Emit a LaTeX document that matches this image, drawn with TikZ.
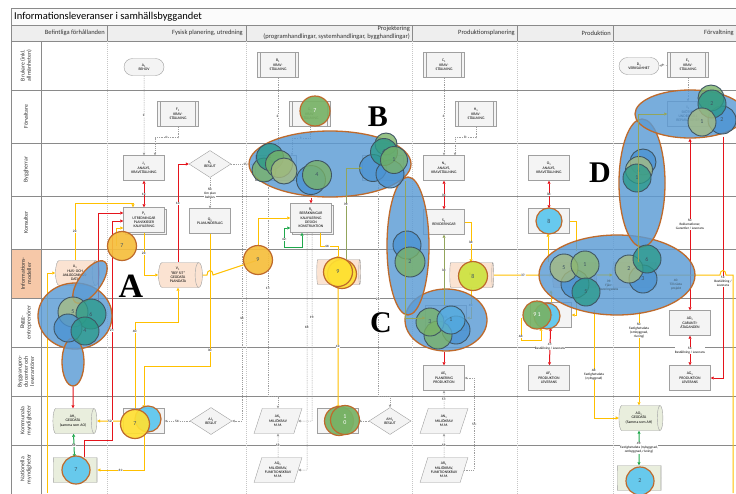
\documentclass[tikz,border=0pt]{standalone}
\usepackage{fontspec}
\setmainfont{Carlito}
\newfontfamily\bigserif{Liberation Serif}
\usetikzlibrary{shapes.geometric,shapes.misc,arrows.meta,shadows,calc}
\pgfdeclarelayer{ell}
\pgfdeclarelayer{top}
\pgfsetlayers{main,ell,top}
\definecolor{yel}{HTML}{FFC000}
\definecolor{redl}{HTML}{E5141C}
\definecolor{grnl}{HTML}{1FA84C}
\definecolor{olv}{HTML}{93A55C}
\definecolor{ellf}{HTML}{5B9BD5}
\definecolor{ello}{HTML}{BE6A2C}
\definecolor{peach}{HTML}{F6C8A8}
\definecolor{peachl}{HTML}{FBE3D2}
\definecolor{geo}{HTML}{E9EEDD}
\definecolor{boxf}{HTML}{F4F4F4}
\definecolor{boxd}{HTML}{A0A0A0}
\definecolor{lanel}{HTML}{8A8A8A}
\definecolor{headf}{HTML}{EEEEEE}
\definecolor{cgreen}{HTML}{78B266}
\definecolor{cteal}{HTML}{2B9A8A}
\definecolor{colive}{HTML}{A7BC80}
\definecolor{cblue}{HTML}{4B93D2}
\definecolor{clight}{HTML}{5CC6EE}
\definecolor{cring}{HTML}{3F5563}
\definecolor{corange}{HTML}{F6BE3C}
\definecolor{cyellow}{HTML}{FFE033}
\definecolor{cyg}{HTML}{CDE23F}
\begin{document}
\begin{tikzpicture}[x=1pt,y=-1pt,
  font=\fontsize{3.8}{4.3}\selectfont,
  >={Triangle[length=3pt,width=3pt]},
  box/.style={draw=boxd, fill=boxf, minimum width=41pt, minimum height=25pt, inner sep=0.5pt, align=center, line width=0.4pt},
  stackbox/.style={box, copy shadow={shadow xshift=2pt, shadow yshift=-2pt, draw=boxd, fill=boxf}},
  pproc/.style={box, path picture={
    \draw[boxd] ([xshift=3pt]path picture bounding box.north west) -- ([xshift=3pt]path picture bounding box.south west);
    \draw[boxd] ([xshift=-3pt]path picture bounding box.north east) -- ([xshift=-3pt]path picture bounding box.south east);}},
  term/.style={rounded rectangle, draw=boxd, fill=boxf, minimum width=41pt, minimum height=17pt, inner sep=0.5pt, align=center},
  dec/.style={diamond, aspect=1.6, draw=boxd, fill=boxf, minimum width=42pt, minimum height=27pt, inner sep=0pt, align=center},
  cyl/.style={cylinder, shape border rotate=0, aspect=0.45, draw=boxd, minimum width=25pt, minimum height=44pt, inner sep=0.5pt, align=center, cylinder uses custom fill, cylinder body fill=peachl, cylinder end fill=peachl},
  geocyl/.style={cyl, cylinder body fill=geo, cylinder end fill=geo},
  para/.style={trapezium, trapezium left angle=68, trapezium right angle=112, trapezium stretches=true, draw=boxd, fill=boxf, minimum width=48pt, minimum height=25pt, inner sep=0.5pt, align=center},
  bigell/.style={ellipse, draw=ello, line width=1.3pt, fill=ellf, fill opacity=0.82, draw opacity=1, inner sep=0pt},
  cn/.style={circle, draw=cring, line width=0.9pt, inner sep=0pt, minimum size=#1, fill opacity=0.78, text opacity=1, font=\fontsize{6}{6}\selectfont, text=cring, align=center},
  cn/.default=28pt,
  yc/.style={cn=#1, draw=ello, line width=1.2pt, fill opacity=0.92},
  yc/.default=28pt,
  yl/.style={draw=yel, line width=1pt, ->},
  yln/.style={draw=yel, line width=1pt},
  rl/.style={draw=redl, line width=1pt, ->},
  gl/.style={draw=grnl, line width=1pt, <->},
  ol/.style={draw=olv, line width=0.8pt, ->},
  dl/.style={draw=gray!75, line width=0.5pt, dash pattern=on 1.2pt off 1pt, -{Triangle[length=2.5pt,width=2.5pt]}},
  lab/.style={fill=white, inner sep=0.3pt, font=\fontsize{3.4}{3.9}\selectfont, align=center},
  lane/.style={rotate=90, align=center, font=\fontsize{5.8}{6.3}\selectfont, text=black!80},
  hdr/.style={font=\fontsize{6.5}{6.5}\selectfont, anchor=east, text=black!80, inner sep=0pt},
  colsep/.style={draw=gray!45, dash pattern=on 1pt off 1pt, line width=0.4pt},
  ln/.style={draw=lanel, line width=0.8pt},
  bigletter/.style={font=\bigserif\bfseries\fontsize{30}{30}\selectfont, inner sep=0pt}
]
\useasboundingbox (0,0) rectangle (736,493);
\clip (0,0) rectangle (736,493);
\fill[white] (0,0) rectangle (736,493);
% ---------- frame and lanes ----------
\fill[headf] (11,8) rectangle (745,41);
\fill[white!97!gray] (11,8) rectangle (745,25);
\fill[peach] (11,249) rectangle (41,298);
\draw[ln] (11,8) rectangle (745,500);
\draw[ln] (11,25) -- (745,25);
\draw[ln] (11,41) -- (745,41);
\foreach \yy in {90,143,196,249,298,347,396,445} \draw[ln] (11,\yy) -- (745,\yy);
\draw[ln] (41,41) -- (41,500);
\foreach \xx in {107,246,412,517,613} {\draw[ln] (\xx,25) -- (\xx,41); \draw[colsep] (\xx,41) -- (\xx,500);}
\node[anchor=west, font=\fontsize{10.5}{10.5}\selectfont, inner sep=0pt] (title) at (14,17) {Informationsleveranser i samhällsbyggandet};
\node[hdr] (h1) at (105,33) {Befintliga förhållanden};
\node[hdr] (h2) at (243,33) {Fysisk planering, utredning};
\node[hdr] (h3a) at (410,29) {Projektering};
\node[hdr] (h3b) at (410,37) {(programhandlingar, systemhandlingar, bygghandlingar)};
\node[hdr] (h4) at (515,33) {Produktionsplanering};
\node[hdr] (h5) at (611,33) {Produktion};
\node[hdr] (h6) at (734,33) {Förvaltning};
\node[lane] (lane1) at (26,65.5) {Brukare (inkl.\\allmänheten)};
\node[lane] (lane2) at (26,116.5) {Förvaltare};
\node[lane] (lane3) at (26,169.5) {Byggherrar};
\node[lane] (lane4) at (26,222.5) {Konsulter};
\node[lane] (lane5) at (26,273.5) {Informations-\\modeller};
\node[lane] (lane6) at (26,322.5) {Bygg-\\entreprenörer};
\node[lane] (lane7) at (26,371.5) {Byggvarupro-\\ducenter och\\leverantörer};
\node[lane] (lane8) at (26,420.5) {Kommunala\\myndigheter};
\node[lane] (lane9) at (26,469) {Nationella\\myndigheter};
% ---------- process nodes ----------
\node[term] (A1) at (144,67) {A\textsubscript{1}\\BEHOV};
\node[pproc] (B1) at (278,65) {B\textsubscript{1}\\KRAV-\\STÄLLNING};
\node[pproc] (C1) at (444,65) {C\textsubscript{1}\\KRAV-\\STÄLLNING};
\node[term] (D1) at (639,66) {D\textsubscript{1}\\VERKSAMHET};
\node[pproc] (E1) at (688,65) {E\textsubscript{1}\\KRAV-\\STÄLLNING};
\node[pproc] (F1) at (178,114) {F\textsubscript{1}\\KRAV-\\STÄLLNING};
\node[pproc] (G1) at (310,114) {G\textsubscript{1}\\KRAV-\\STÄLLNING};
\node[pproc] (H1) at (476,114) {H\textsubscript{1}\\KRAV-\\STÄLLNING};
\node[box] (I1) at (688,114) {I\textsubscript{1}\\SKÖTSEL\\UNDERHÅLL\\REPARATIONER};
\node[box] (J1) at (144,168) {J\textsubscript{1}\\ANALYS,\\KRAVSTÄLLNING};
\node[dec] (K1) at (210,164) {K\textsubscript{1}\\BESLUT};
\node[box] (L1) at (276,168) {L\textsubscript{1}};
\node[box] (M1) at (383,168) {M\textsubscript{1}};
\node[box] (N1) at (444,168) {N\textsubscript{1}\\ANALYS,\\KRAVSTÄLLNING};
\node[box] (O1) at (549,168) {O\textsubscript{1}\\ANALYS,\\KRAVSTÄLLNING};
\node[stackbox] (P1) at (144,220) {P\textsubscript{1}\\UTREDNINGAR\\PLANSKISSER\\KALKYLERING};
\node[box] (Q1) at (210,221) {Q\textsubscript{1}\\PLANUNDERLAG};
\node[stackbox, minimum height=29pt] (R1) at (311,218) {R\textsubscript{1}\\BERÄKNINGAR\\KALKYLERING\\DESIGN\\KONSTRUKTION};
\node[box] (S1) at (444,222) {S\textsubscript{1}\\REVIDERINGAR};
\node[box] (T1) at (549,221) {T\textsubscript{1}};
\node[cyl] (U1) at (75,273) {U\textsubscript{1}\\HUS- OCH\\ANLÄGGNINGS-\\DATA};
\node[cyl] (V1) at (178,275) {V\textsubscript{1}\\"BEF SIT"\\GEODATA\\PLANDATA};
\node[cyl] (W1) at (338,272) {W\textsubscript{1}};
\node[cyl] (X1) at (471,275) {X\textsubscript{1}};
\node[cyl] (Y1) at (574,275) {Y\textsubscript{1}};
\node[cyl] (Z1) at (634,275) {Z\textsubscript{1}};
\node[box] (AB1) at (446,318) {AB\textsubscript{1}};
\node[box] (AC1) at (551,315) {AC\textsubscript{1}};
\node[box] (AD1) at (690,323) {AD\textsubscript{1}\\GARANTI-\\ÅTAGANDEN};
\node[box] (AE1) at (444,378) {AE\textsubscript{1}\\PLANERING\\PRODUKTION};
\node[box] (AF1) at (549,378) {AF\textsubscript{1}\\PRODUKTION\\LEVERANS};
\node[box] (AG1) at (690,378) {AG\textsubscript{1}\\PRODUKTION\\LEVERANS};
\node[geocyl] (AH1) at (73,421) {AH\textsubscript{1}\\GEODATA\\(samma som AO)};
\node[box] (AI1) at (144,421) {AI\textsubscript{1}};
\node[dec] (AJ1) at (211,421) {AJ\textsubscript{1}\\BESLUT};
\node[para] (AK1) at (278,421) {AK\textsubscript{1}\\MILJÖKRAV\\M.M.};
\node[box] (AL1) at (338,421) {AL\textsubscript{1}};
\node[dec] (AM1) at (390,421) {AM\textsubscript{1}\\BESLUT};
\node[para] (AN1) at (444,421) {AN\textsubscript{1}\\MILJÖKRAV\\M.M.};
\node[geocyl] (AO1) at (639,418) {AO\textsubscript{1}\\GEODATA\\(Samma som AH)};
\node[geocyl] (AP1) at (75,470) {};
\node[para] (AQ1) at (278,470) {AQ\textsubscript{1}\\MILJÖKRAV,\\FUNKTIONSKRAV\\M.M.};
\node[para] (AR1) at (444,470) {AR\textsubscript{1}\\MILJÖKRAV,\\FUNKTIONSKRAV\\M.M.};
\node[geocyl] (AS1) at (639,478) {};
% ---------- ellipses and marker circles (upper layer) ----------
\begin{pgfonlayer}{ell}
\node[bigell, minimum width=74pt, minimum height=66pt] (ellA) at (75,316) {};
\node[bigell, minimum width=22pt, minimum height=50pt, rotate=-36] (ellA2) at (90,282) {};
\node[bigell, minimum width=22pt, minimum height=48pt] (ellA3) at (73,362) {};
\node[bigell, minimum width=162pt, minimum height=66pt] (ellB) at (330,164) {};
\node[bigell, minimum width=82pt, minimum height=62pt] (ellC) at (446,320) {};
\node[bigell, minimum width=42pt, minimum height=138pt] (ellBC) at (408,246) {};
\node[bigell, minimum width=156pt, minimum height=80pt] (ellD) at (617,275) {};
\node[bigell, minimum width=46pt, minimum height=128pt] (ellD2) at (642,183) {};
\node[bigell, minimum width=110pt, minimum height=48pt] (ellE) at (690,114) {};
% circles in A
\node[cn=30pt, fill=colive] (a5) at (73,312) {5};
\node[cn=30pt, fill=cteal] (a6) at (91,314) {6};
\node[cn=28pt, fill=cblue] (a4b) at (68,328) {};
\node[cn=28pt, fill=cteal] (a4) at (85,331) {4};
% circles in B
\node[cn=24pt, fill=cgreen] (b2d) at (264,170) {};
\node[cn=27pt, fill=cteal] (b2) at (270,157) {2};
\node[cn=27pt, fill=cgreen] (b2b) at (279,164) {};
\node[cn=26pt, fill=colive] (b2c) at (284,171) {};
\node[cn=29pt, fill=cblue] (b4b) at (311,180) {};
\node[cn=29pt, fill=cgreen] (b4) at (317,175) {4};
\node[cn=22pt, fill=cgreen] (b3t) at (386,144) {};
\node[cn=27pt, fill=cblue] (b3a) at (373,168) {};
\node[cn=28pt, fill=cblue] (b3b) at (390,174) {};
\node[cn=27pt, fill=cteal] (b4r) at (384,152) {4};
\node[cn=27pt, fill=cgreen] (b1r) at (394,160) {1};
% circles in BC and C
\node[cn=28pt, fill=cblue] (bc1) at (407,245) {};
\node[cn=30pt, fill=cgreen] (bc2) at (410,262) {2};
\node[cn=28pt, fill=cblue] (c1b) at (456,330) {};
\node[cn=28pt, fill=cgreen] (c3b) at (438,335) {};
\node[cn=28pt, fill=cgreen] (c3) at (430,322) {3};
\node[cn=28pt, fill=clight!50!cblue] (c1) at (451,320) {1};
% circles in D
\node[cn=28pt, fill=cblue] (d5b) at (575,284) {};
\node[cn=28pt, fill=colive] (d5) at (564,268) {5};
\node[cn=28pt, fill=cgreen!60!colive] (d1) at (585,265) {1};
\node[cn=28pt, fill=cteal] (d5c) at (586,292) {5};
\node[cn=28pt, fill=cblue] (d3) at (643,279) {3};
\node[cn=28pt, fill=colive] (d2) at (629,269) {2};
\node[cn=28pt, fill=cteal] (d6) at (647,259) {6};
\node[lab, fill=none, text=cring] (l39) at (609,286) {39:\\Fjärr-\\leveringsdata};
\node[lab, fill=none, text=cring] (l40) at (676,285) {40:\\Till nästa\\projekt};
\node[cn=26pt, fill=cblue] (d6a) at (643,162) {};
\node[cn=27pt, fill=colive] (d6b) at (639,170) {6};
\node[cn=28pt, fill=cteal] (d1a) at (637,178) {1};
% circles in E
\node[cn=28pt, fill=cblue] (e2b) at (722,120) {2};
\node[cn=26pt, fill=cgreen] (e2t) at (711,98) {};
\node[cn=28pt, fill=cteal] (e2) at (712,104) {2};
\node[cn=28pt, fill=colive] (e1) at (702,122) {1};
% single markers
\node[yc=30pt, fill=cgreen, text=white] (g7) at (315,111) {7};
\node[yc=29pt, fill=corange] (o7) at (122,246) {7};
\node[yc=29pt, fill=corange] (o9) at (258,260) {9};
\node[yc=29pt, fill=cyellow] (y9b) at (342,274) {};
\node[yc=29pt, fill=cyellow] (y9) at (338,272) {9};
\node[yc=29pt, fill=cyg] (yg8) at (473,276) {8};
\node[yc=26pt, fill=clight] (lb8) at (549,221) {8};
\node[yc=26pt, fill=clight] (k91b) at (547,316) {};
\node[yc=28pt, fill=cgreen, text=white] (k91) at (537,315) {9\,1};
\node[yc=26pt, fill=clight] (m7b) at (148,419) {};
\node[yc=29pt, fill=cyellow] (m7) at (135,424) {7};
\node[yc=29pt, fill=cgreen] (m10b) at (339,421) {};
\node[yc=29pt, fill=cgreen, text=white] (m10) at (345,420) {1\\0};
\node[yc=28pt, fill=clight] (n7) at (76,470) {7};
\node[yc=28pt, fill=clight] (n2) at (640,481) {2};
% big letters
\node[bigletter, font=\bigserif\bfseries\fontsize{34}{34}\selectfont] (LA) at (131,286) {A};
\node[bigletter] (LB) at (378,117) {B};
\node[bigletter] (LC) at (381,323) {C};
\node[bigletter] (LD) at (600,173) {D};
\end{pgfonlayer}
% ---------- dashed connectors ----------
\draw[dl] (A1) -- node[lab]{1:} (J1);
\draw[dl] (F1.south) -- ++(0,11) -| node[lab,pos=0.25]{4:} ($(J1.north)+(11,0)$);
\draw[dl] (B1.south) -- node[lab]{2:} (B1.south |- L1.north);
\draw[dl] (G1.south) -- ++(0,12) -| node[lab,pos=0.25]{7:} ($(L1.north)+(16,0)$);
\draw[dl] (C1) -- node[lab]{3:} (N1);
\draw[dl] (H1.south) -- ++(0,11) -| node[lab,pos=0.25]{8:} ($(N1.north)+(11,0)$);
\draw[dl] (E1) -- node[lab]{9:} (D1);
\draw[dl] (E1) -- (I1);
\draw[dl] (K1) -- node[lab]{5b:\\Om plan\\behövs} (Q1);
\draw[dl] (K1.east) -- node[lab,pos=0.6]{15:} (K1.east -| L1.west);
\draw[dl] ($(K1.east)+(11,0)$) |- node[lab,pos=0.3]{16:} (AJ1.east);
\draw[dl] ($(L1.south)+(-8,0)$) -- node[lab,pos=0.5]{17:} (268,396) -| (AK1.north);
\draw[dl] ($(R1.south)+(-4,0)$) -- node[lab,pos=0.4]{18:} (307,470) -- (AQ1.east);
\draw[dl] ($(R1.south)+(1,0)$) -- node[lab,pos=0.45]{19:} (312,421) -- (AK1.east);
\draw[dl] ($(M1.south)+(-5,0)$) -- node[lab,pos=0.55]{21:} (378,396) -| (AM1.north);
\draw[dl] (AM1) -- (AL1);
\draw[dl] (AJ1) -- node[lab]{54:} (AI1);
\draw[dl] (AQ1) -- node[lab]{53:} (AK1);
\draw[dl] (AR1) -- node[lab]{56:} (AN1);
\draw[dl] (AN1) -- node[lab]{57:} (AE1);
\draw[dl] (AR1.east) -- ++(10,0) |- node[lab,pos=0.25]{55:} (AE1.east);
% ---------- red connectors ----------
\draw[rl,<->] (J1) -- node[lab]{12:} (P1);
\draw[rl] (V1.north) |- node[lab,pos=0.3]{13:} (K1.west);
\draw[rl] (ellA2.south -| 98,0) |- ($(P1.west)+(0,-7)$);
\draw[rl] ($(AP1.north)+(9,0)$) |- (112,440) |- node[lab,pos=0.25]{27:} ($(P1.west)+(0,1)$);
\draw[rl] (ellA3.south) -- (AH1.north);
\draw[rl] (ellB.south -| R1.north) -- (R1.north);
\draw[rl,<->] (N1) -- node[lab]{35:} (S1);
\draw[rl,<->] (O1) -- node[lab]{38:} (T1);
\draw[rl,<->] (AC1) -- node[lab]{47:\\Beställning / Leverans} (AF1);
\draw[rl,<->] (AD1) -- node[lab]{53:\\Beställning / Leverans} (AG1);
\draw[rl,<->] (AD1.north |- ellE.south) -- node[lab]{50:\\Reklamationer,\\Garantier / Leverans} (AD1.north);
\draw[rl] ($(ellE.south)+(33,-2)$) |- node[lab,pos=0.3]{51:\\Beställning /\\Leverans} (AG1.east);
\draw[rl] (ellC.south -| AE1.north) -- (AE1.north);
% ---------- green connectors ----------
\draw[gl] (AH1) -- node[lab]{58:} (AP1);
\draw[gl] (AO1) -- node[lab]{49:\\Fastighetsdata (nybyggnad,\\ombyggnad, rivning)} (AS1);
\draw[gl] ($(R1.south)+(-9,0)$) |- ($(R1.west)+(-6,29)$) |- node[lab,pos=0.2]{42:} ($(R1.west)+(0,10)$);
% ---------- yellow connectors ----------
\draw[yl] (U1.north) |- node[lab,pos=0.25]{22:} (133,203) -- ($(P1.north)+(-11,0)$);
\draw[yl] (P1.south) |- node[lab,pos=0.25]{23:} (V1.west);
\draw[yl] ($(o7.center)+(-6,0)$) |- ($(P1.west)+(0,8)$);
\draw[yln] (V1.east) -- (207,275) .. controls (207,269) and (213,269) .. (213,275) -- (o9.center);
\draw[yl] (Q1.south) |- node[lab,pos=0.44]{30:} ($(AI1.north)+(0,-42)$) -- (AI1.north);
\draw[yl] ($(AI1.north)+(-9,0)$) |- node[lab,pos=0.45]{40:} ($(V1.south)+(0,35)$) -- (V1.south);
\draw[yl] (AI1.west) -- node[lab]{52:} (AH1.east);
\draw[yl] (AI1.south) |- node[lab,pos=0.75]{61:} (AP1.east);
\coordinate (yb) at (47,493);
\draw[yl] (yb) |- (U1.west);
\draw[yl] (o9.north) |- (R1.west);
\draw[yl] ($(R1.south)+(9,0)$) |- node[lab,pos=0.7]{44:} ($(W1.north)+(0,-13)$) -- (W1.north);
\draw[yl] (W1.south) -- node[lab,pos=0.5]{41:} (AL1.north);
\draw[yl] (S1.east) -| node[lab,pos=0.75]{36:} (X1.north);
\draw[yl] (X1.south) |- node[lab,pos=0.3]{45:} (AB1.east);
\draw[yl] (X1.east) -- node[lab]{37:} (Y1.west);
\coordinate (yr) at (733,493);
\draw[yln] (Z1.east) -- (720,275) .. controls (720,269) and (726,269) .. (726,275) -- (733,275) -- (yr);
\draw[yln] (T1.east) -| (lb8.east -| 576,0) -- ++(0,30);
\draw[yl] ($(T1.south)+(-1,28)$) -- ($(T1.south)+(-1,0)$);
\draw[yl] (AC1.north) -- ++(0,-12);
\draw[yl] ($(AC1.east)+(4.5,-27)$) |- (AC1.east);
\coordinate (y46) at (521,318);
\draw[yl] (y46) |- node[lab,pos=0.4]{46:} ($(AC1.south)+(-10,13)$) -- ($(AC1.south)+(-10,0)$);
\draw[yl] ($(ellD.south)+(-23,-6)$) |- node[lab,pos=0.3]{48:\\Fastighetsdata\\(nybyggnad)} (AO1.west);
\draw[yl] ($(ellD.south -| AO1.north)+(0,-4)$) -- node[lab,pos=0.2]{50:\\Fastighetsdata\\(ombyggnad,\\rivning)} (AO1.north);
% ---------- olive connectors (on top) ----------
\begin{pgfonlayer}{top}
\draw[ol] ($(W1.north)+(8,0)$) |- node[lab,pos=0.3]{39:} (M1.west);
\draw[ol] ($(M1.south)+(22,0)$) |- (AB1.west);
\draw[ol] (AB1.north -| S1.south) -- node[lab]{34:} (S1.south);
\draw[ol] ($(Z1.north)+(4,0)$) |- (I1.west);
\draw[ol] (Y1.east) -- (Z1.west);
\end{pgfonlayer}
\end{tikzpicture}
\end{document}
